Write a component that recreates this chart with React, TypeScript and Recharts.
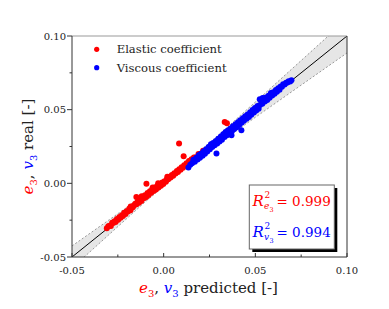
import React from "react";
import {
  ComposedChart,
  Scatter,
  Line,
  Area,
  XAxis,
  YAxis,
  ReferenceLine,
} from "recharts";

const RED = "#ff0000";
const BLUE = "#0000ff";
const FONT = "'DejaVu Serif', serif";

const axisTicks = [-0.05, -0.025, 0, 0.025, 0.05, 0.075, 0.1];

// prediction band
const bandX = [-0.05, -0.03, -0.01, 0.01, 0.03, 0.05, 0.07, 0.1];
const bandLow = [-0.0575, -0.035, -0.0125, 0.0085, 0.0272, 0.0448, 0.0623, 0.0885];
const bandHigh = [-0.0425, -0.025, -0.0075, 0.0115, 0.0328, 0.0552, 0.0777, 0.1115];
const fitLine = [-0.05, -0.03, -0.01, 0.01, 0.03, 0.05, 0.07, 0.1];

// [predicted, real]
const elasticPoints: [number, number][] = [
  [-0.031, -0.0305], [-0.0302, -0.0292], [-0.0295, -0.0288], [-0.0288, -0.029],
  [-0.0281, -0.0268], [-0.0275, -0.027], [-0.0268, -0.0258], [-0.0262, -0.0262],
  [-0.0255, -0.0242], [-0.0248, -0.0248], [-0.0241, -0.0228], [-0.0235, -0.0234],
  [-0.0228, -0.0216], [-0.0222, -0.0222], [-0.0215, -0.02], [-0.0208, -0.0208],
  [-0.0202, -0.0189], [-0.0195, -0.0192], [-0.0188, -0.0172], [-0.0181, -0.0182],
  [-0.018, -0.0158], [-0.0175, -0.0159], [-0.0168, -0.0162], [-0.0161, -0.0148],
  [-0.0155, -0.0138], [-0.0149, -0.0093], [-0.0148, -0.0142], [-0.0142, -0.0124],
  [-0.0135, -0.0132], [-0.0128, -0.0108], [-0.0122, -0.012], [-0.012, -0.0088],
  [-0.0115, -0.0096], [-0.0108, -0.0101], [-0.0102, -0.0081], [-0.0094, -0.0002],
  [-0.0095, -0.0092], [-0.0088, -0.0066], [-0.0082, -0.008], [-0.0075, -0.0054],
  [-0.0068, -0.0064], [-0.0062, -0.0041], [-0.006, -0.0028], [-0.0055, -0.0052],
  [-0.0048, -0.0029], [-0.0042, -0.0042], [-0.0035, -0.0018], [-0.003, 0.0],
  [-0.0028, -0.0028], [-0.0022, -0.0008], [-0.0015, -0.0016], [-0.0008, 0.0006],
  [-0.0002, -0.0005], [0.0005, 0.0014], [0.0012, 0.0011], [0.0018, 0.0029],
  [0.002, 0.0045], [0.0025, 0.0027], [0.0032, 0.0044], [0.0038, 0.0039],
  [0.0045, 0.0057], [0.0052, 0.0052], [0.0058, 0.0069], [0.0065, 0.0066],
  [0.0072, 0.0084], [0.0078, 0.0077], [0.0084, 0.027], [0.0085, 0.0096],
  [0.0092, 0.0092], [0.0098, 0.011], [0.0105, 0.0105], [0.0109, 0.0184],
  [0.0112, 0.0123], [0.0118, 0.012], [0.0125, 0.0137], [0.0132, 0.0134],
  [0.0138, 0.0152], [0.0145, 0.015], [0.0152, 0.0164], [0.0158, 0.0161],
  [0.0165, 0.0176], [0.0172, 0.0176], [0.019, 0.0199], [0.0215, 0.0222],
  [0.0306, 0.0304], [0.0333, 0.0416], [0.0345, 0.0408],
];

const viscousPoints: [number, number][] = [
  [0.0135, 0.0108], [0.0145, 0.0126], [0.0155, 0.0136], [0.0162, 0.016],
  [0.017, 0.0146], [0.0178, 0.0174], [0.0185, 0.0161], [0.0192, 0.0193],
  [0.0198, 0.0174], [0.0205, 0.0203], [0.0212, 0.0188], [0.0218, 0.0218],
  [0.0225, 0.0201], [0.0232, 0.0231], [0.0238, 0.0216], [0.0245, 0.0247],
  [0.0252, 0.0231], [0.0258, 0.0265], [0.0265, 0.0246], [0.027, 0.0273],
  [0.0278, 0.0258], [0.0288, 0.0202], [0.0285, 0.0288], [0.0292, 0.0271],
  [0.0298, 0.0303], [0.0305, 0.0284], [0.0312, 0.0318], [0.0318, 0.0296],
  [0.0325, 0.0333], [0.0332, 0.0314], [0.0338, 0.0348], [0.0345, 0.0326],
  [0.0352, 0.0361], [0.0358, 0.0341], [0.0365, 0.0373], [0.037, 0.0326],
  [0.0372, 0.0354], [0.0378, 0.0388], [0.0385, 0.0368], [0.0392, 0.0401],
  [0.0398, 0.0381], [0.0405, 0.0415], [0.0412, 0.0396], [0.0418, 0.0428],
  [0.0424, 0.036], [0.0425, 0.0411], [0.0432, 0.0441], [0.0438, 0.0424],
  [0.0445, 0.0455], [0.0452, 0.0438], [0.0458, 0.0468], [0.0465, 0.0451],
  [0.0472, 0.0483], [0.0478, 0.0466], [0.0485, 0.0498], [0.0492, 0.048],
  [0.0498, 0.0511], [0.0505, 0.0494], [0.0512, 0.0525], [0.0518, 0.0506],
  [0.0524, 0.057], [0.0525, 0.0531], [0.0532, 0.0563], [0.0538, 0.0541],
  [0.054, 0.058], [0.0545, 0.0575], [0.0552, 0.0556], [0.0558, 0.0583],
  [0.0565, 0.0566], [0.0572, 0.0595], [0.0578, 0.0581], [0.0585, 0.0613],
  [0.0592, 0.0596], [0.0598, 0.0618], [0.0605, 0.0608], [0.0612, 0.0633],
  [0.0618, 0.0621], [0.0625, 0.0645], [0.0632, 0.0636], [0.0638, 0.0658],
  [0.0645, 0.0656], [0.0652, 0.0673], [0.066, 0.0671], [0.0668, 0.0683],
  [0.0675, 0.0684], [0.0682, 0.0693], [0.069, 0.0691], [0.0697, 0.07],
];

const bandRows = bandX.map((x, i) => ({
  x,
  low: bandLow[i],
  high: bandHigh[i],
  band: [bandLow[i], bandHigh[i]],
  fit: fitLine[i],
}));
const elasticData = elasticPoints.map(([x, y]) => ({ x, y }));
const viscousData = viscousPoints.map(([x, y]) => ({ x, y }));

const XTick = (p: any) => {
  const major = p.index % 2 === 0;
  return (
    <g>
      <line x1={p.x} x2={p.x} y1={p.y} y2={p.y - (major ? 4 : 2.5)} stroke="#333" />
      {major && (
        <text x={p.x} y={p.y + 17} textAnchor="middle" fontSize={10} fill="#222" style={{ fontFamily: FONT }}>
          {p.payload.value.toFixed(2)}
        </text>
      )}
    </g>
  );
};

const YTick = (p: any) => {
  const major = p.index % 2 === 0;
  return (
    <g>
      <line x1={p.x} x2={p.x - (major ? 5 : 2.5)} y1={p.y} y2={p.y} stroke="#333" />
      {major && (
        <text x={p.x - 6} y={p.y} dy="0.35em" textAnchor="end" fontSize={10} fill="#222" style={{ fontFamily: FONT }}>
          {p.payload.value.toFixed(2)}
        </text>
      )}
    </g>
  );
};

const dot = (color: string) => (p: any) => <circle cx={p.cx} cy={p.cy} r={3} fill={color} />;

export default function App() {
  return (
    <div style={{ position: "relative", width: 381, height: 293, fontFamily: FONT }}>
      <ComposedChart
        width={381}
        height={293}
        data={bandRows}
        margin={{ top: 28, right: 42, left: 0, bottom: 14 }}
      >
        <XAxis
          dataKey="x"
          type="number"
          domain={[-0.05, 0.1]}
          ticks={axisTicks}
          allowDataOverflow
          height={30}
          tickSize={0}
          tickMargin={0}
          tickLine={false}
          tick={XTick}
          stroke="#333"
        />
        <YAxis
          dataKey="y"
          type="number"
          domain={[-0.05, 0.1]}
          ticks={axisTicks}
          allowDataOverflow
          width={64}
          tickSize={0}
          tickMargin={0}
          tickLine={false}
          tick={YTick}
          stroke="#333"
        />
        <Area
          dataKey="band"
          type="linear"
          fill="#e6e6e6"
          fillOpacity={1}
          stroke="none"
          isAnimationActive={false}
        />
        <Line dataKey="low" type="linear" stroke="#999" strokeDasharray="2 2" dot={false} isAnimationActive={false} />
        <Line dataKey="high" type="linear" stroke="#999" strokeDasharray="2 2" dot={false} isAnimationActive={false} />
        <Scatter data={elasticData} dataKey="y" fill={RED} shape={dot(RED)} isAnimationActive={false} />
        <Scatter data={viscousData} dataKey="y" fill={BLUE} shape={dot(BLUE)} isAnimationActive={false} />
        <Line dataKey="fit" type="linear" stroke="#000" strokeWidth={1} dot={false} isAnimationActive={false} />
        <ReferenceLine y={0.1} stroke="#999" />
        <ReferenceLine x={0.1} stroke="#333" />
      </ComposedChart>
      <svg
        width={381}
        height={293}
        style={{ position: "absolute", left: 0, top: 0, pointerEvents: "none", fontFamily: FONT }}
      >
        {/* legend */}
        <circle cx={88.7} cy={41.3} r={2.6} fill={RED} />
        <text x={108.7} y={41.3} dy="0.35em" fontSize={11.6} fill="#222">Elastic coefficient</text>
        <circle cx={88.7} cy={59.7} r={2.6} fill={BLUE} />
        <text x={108.7} y={59.7} dy="0.35em" fontSize={11.6} fill="#222">Viscous coefficient</text>

        {/* axis titles */}
        <text transform="translate(25,138.5) rotate(-90)" textAnchor="middle" fontSize={15} fill="#222">
          <tspan fill={RED} fontStyle="italic">e</tspan>
          <tspan fill={RED} fontSize={10} dy={4}>3</tspan>
          <tspan dy={-4}>, </tspan>
          <tspan fill={BLUE} fontStyle="italic">v</tspan>
          <tspan fill={BLUE} fontSize={10} dy={4}>3</tspan>
          <tspan dy={-4}> real [-]</tspan>
        </text>
        <text x={200.5} y={285} textAnchor="middle" fontSize={15} fill="#222">
          <tspan fill={RED} fontStyle="italic">e</tspan>
          <tspan fill={RED} fontSize={10} dy={4}>3</tspan>
          <tspan dy={-4}>, </tspan>
          <tspan fill={BLUE} fontStyle="italic">v</tspan>
          <tspan fill={BLUE} fontSize={10} dy={4}>3</tspan>
          <tspan dy={-4}> predicted [-]</tspan>
        </text>

        {/* R² box */}
        <rect x={244.3} y={180} width={85} height={64} fill="#000" />
        <rect x={241.3} y={177} width={85} height={64} fill="#fff" stroke="#666" />
        <text x={244.5} y={198} fontSize={15} fontStyle="italic" fill={RED}>R</text>
        <text x={256.5} y={190} fontSize={9} fill={RED}>2</text>
        <text x={256} y={201} fontSize={9} fontStyle="italic" fill={RED}>e</text>
        <text x={261.5} y={203.5} fontSize={6.5} fill={RED}>3</text>
        <text x={268.5} y={198} fontSize={13.5} fill={RED}>= 0.999</text>
        <text x={244.5} y={229} fontSize={15} fontStyle="italic" fill={BLUE}>R</text>
        <text x={256.5} y={221} fontSize={9} fill={BLUE}>2</text>
        <text x={256} y={232} fontSize={9} fontStyle="italic" fill={BLUE}>v</text>
        <text x={261.5} y={234.5} fontSize={6.5} fill={BLUE}>3</text>
        <text x={268.5} y={229} fontSize={13.5} fill={BLUE}>= 0.994</text>
      </svg>
    </div>
  );
}
